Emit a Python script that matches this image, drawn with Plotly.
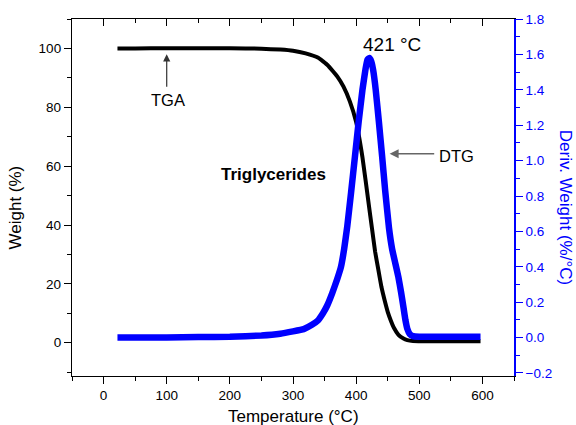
import plotly.graph_objects as go

# ---- data ----
tga_temp = [22, 50, 100, 150, 200, 250, 280, 300, 320, 340, 355, 370, 380, 390, 400,
            410, 420, 425, 430, 435, 440, 445, 450, 455, 460, 467, 475, 481, 490, 520, 560, 597]
tga_weight = [100.0, 100.0, 100.1, 100.1, 100.1, 99.9, 99.6, 99.2, 98.3, 96.8, 94.3, 90.5, 87.0, 82.0, 75.0,
              63.0, 47.0, 39.0, 31.0, 25.0, 19.0, 14.5, 10.5, 7.5, 5.0, 2.7, 1.4, 0.9, 0.6, 0.5, 0.5, 0.5]

dtg_temp = [22, 100, 150, 200, 250, 280, 300, 317, 330, 339, 347, 354, 362, 370, 376, 381, 386, 392,
            398, 404, 410, 415, 418, 421, 424, 427, 431, 436, 441, 446, 452, 457, 462, 467, 471, 475,
            478, 481, 485, 490, 500, 550, 597]
dtg_value = [0.0, 0.0, 0.003, 0.005, 0.012, 0.022, 0.035, 0.048, 0.072, 0.095, 0.135, 0.18, 0.25, 0.33,
             0.40, 0.50, 0.63, 0.82, 1.02, 1.22, 1.40, 1.52, 1.57, 1.58, 1.56, 1.51, 1.40, 1.22, 1.03,
             0.83, 0.62, 0.50, 0.42, 0.34, 0.26, 0.17, 0.10, 0.05, 0.02, 0.008, 0.005, 0.005, 0.005]

x_ticks = [0, 100, 200, 300, 400, 500, 600]
left_ticks = [0, 20, 40, 60, 80, 100]
right_ticks = [-0.2, 0.0, 0.2, 0.4, 0.6, 0.8, 1.0, 1.2, 1.4, 1.6, 1.8]

peak_label = "421 °C"

FONT = "Arial, Liberation Sans, sans-serif"
BLUE = "#0000FF"

fig = go.Figure()
fig.add_trace(go.Scatter(x=tga_temp, y=tga_weight, mode="lines",
                         line=dict(color="black", width=4, shape="spline", smoothing=0.3),
                         showlegend=False, hoverinfo="skip"))
fig.add_trace(go.Scatter(x=dtg_temp, y=dtg_value, mode="lines", yaxis="y2",
                         line=dict(color=BLUE, width=6.5, shape="spline", smoothing=0.3),
                         showlegend=False, hoverinfo="skip"))
# invisible trace to carry the top (mirrored) axis
fig.add_trace(go.Scatter(x=[0], y=[0], xaxis="x2", mode="markers",
                         marker=dict(opacity=0), showlegend=False, hoverinfo="skip"))

xr = [-50, 650]
fig.update_layout(
    width=576, height=425,
    margin=dict(l=72, r=62, t=16, b=49),
    paper_bgcolor="white", plot_bgcolor="white",
    font=dict(family=FONT, size=13.5, color="black"),
    xaxis=dict(range=xr, tickmode="array", tickvals=x_ticks,
               ticks="outside", ticklen=7, tickwidth=1.2, tickcolor="black",
               minor=dict(dtick=50, tick0=0, ticks="outside", ticklen=4, tickcolor="black", tickwidth=1.2),
               showline=True, linecolor="black", linewidth=1.3,
               showgrid=False, zeroline=False, tickfont=dict(size=13.5)),
    xaxis2=dict(range=xr, overlaying="x", side="top", anchor="y",
                tickmode="array", tickvals=x_ticks,
                ticks="inside", ticklen=7, tickwidth=1.2, tickcolor="black",
                minor=dict(dtick=50, tick0=0, ticks="inside", ticklen=4, tickcolor="black", tickwidth=1.2),
                showticklabels=False, showline=True, linecolor="black", linewidth=1.3,
                showgrid=False, zeroline=False),
    yaxis=dict(range=[-11.3, 110], tickmode="array", tickvals=left_ticks,
               ticks="outside", ticklen=7, tickwidth=1.2, tickcolor="black",
               minor=dict(dtick=10, tick0=0, ticks="outside", ticklen=4, tickcolor="black", tickwidth=1.2),
               showline=True, linecolor="black", linewidth=1.3,
               showgrid=False, zeroline=False, tickfont=dict(size=13.5)),
    yaxis2=dict(range=[-0.217, 1.8], overlaying="y", side="right", anchor="x",
                tickmode="array", tickvals=right_ticks, tickformat=".1f",
                ticks="outside", ticklen=7, tickwidth=1.2, tickcolor=BLUE,
                minor=dict(dtick=0.1, tick0=0, ticks="outside", ticklen=4, tickcolor=BLUE, tickwidth=1.2),
                showline=True, linecolor=BLUE, linewidth=1.8,
                showgrid=False, zeroline=False, tickfont=dict(size=13.5, color=BLUE)),
)

ann = []
# axis titles
ann.append(dict(text="Temperature (°C)", xref="paper", yref="paper", x=0.5, y=0,
                yshift=-40, showarrow=False, font=dict(size=17, family=FONT),
                xanchor="center", yanchor="middle"))
ann.append(dict(text="Weight (%)", xref="paper", yref="paper", x=0, y=0.472,
                xshift=-57, showarrow=False, textangle=-90, font=dict(size=17, family=FONT),
                xanchor="center", yanchor="middle"))
ann.append(dict(text="Deriv. Weight (%/°C)", xref="paper", yref="paper", x=1, y=0.474,
                xshift=51, showarrow=False, textangle=90, font=dict(size=17, family=FONT, color=BLUE),
                xanchor="center", yanchor="middle"))
# in-plot labels
ann.append(dict(text=peak_label, x=456, y=101.3, xref="x", yref="y", showarrow=False,
                font=dict(size=19, family=FONT), xanchor="center", yanchor="middle"))
ann.append(dict(text="DTG", x=559, y=63.6, xref="x", yref="y", showarrow=False,
                font=dict(size=16.5, family=FONT), xanchor="center", yanchor="middle"))
ann.append(dict(text="TGA", x=102.5, y=82.6, xref="x", yref="y", showarrow=False,
                font=dict(size=16.5, family=FONT), xanchor="center", yanchor="middle"))
ann.append(dict(text="<b>Triglycerides</b>", x=268.7, y=57.2, xref="x", yref="y", showarrow=False,
                font=dict(size=17, family=FONT), xanchor="center", yanchor="middle"))
# arrows
ann.append(dict(text="", x=100, y=98, xref="x", yref="y", ax=100, ay=86.5, axref="x", ayref="y",
                showarrow=True, arrowhead=2, arrowsize=1.2, arrowwidth=1.2, arrowcolor="#333333"))
ann.append(dict(text="", x=453, y=64.2, xref="x", yref="y", ax=526, ay=64.2, axref="x", ayref="y",
                showarrow=True, arrowhead=2, arrowsize=1.2, arrowwidth=1.5, arrowcolor="#666666"))
fig.update_layout(annotations=ann)

fig.write_html("out.html", config={"displayModeBar": False},
               post_script="document.body.style.margin='0';document.body.style.padding='0';")
